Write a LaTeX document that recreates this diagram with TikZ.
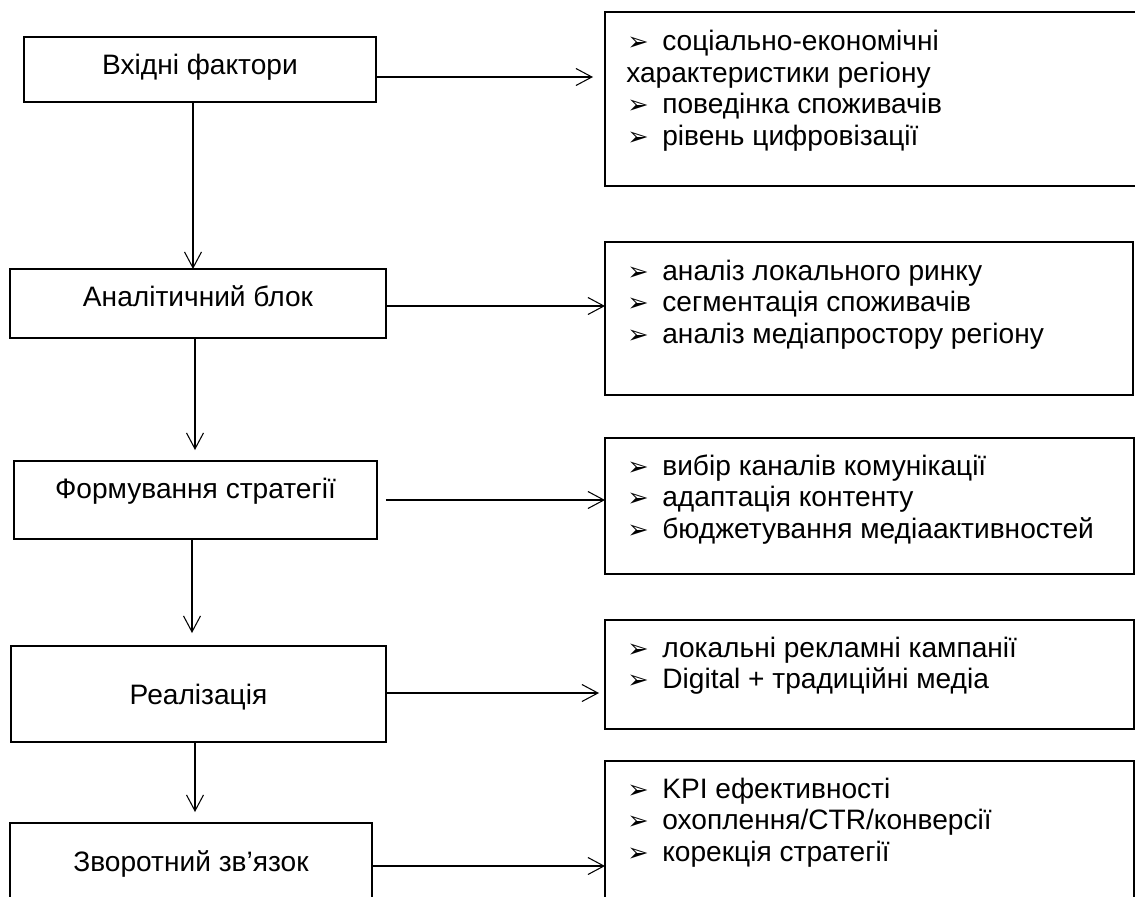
\documentclass[tikz,border=0pt]{standalone}
\usepackage{fontspec}
\setmainfont{Liberation Sans}
\newfontfamily\bulletfont{DejaVu Sans}
\usetikzlibrary{arrows.meta,calc}

\tikzset{
  stagebox/.style={draw, line width=1.25pt, inner sep=0pt, outer sep=0pt},
  flow/.style={line width=0.6pt, -{Straight Barb[length=0.32cm,width=0.34cm]}},
  boxtext/.style={font=\fontsize{16}{18}\selectfont, inner sep=0pt, anchor=base},
  itemtext/.style={boxtext, anchor=base west}
}
\newcommand\itembullet{\makebox[0.7cm][l]{\bulletfont\fontsize{14.5}{16}\selectfont ➢}}

\begin{document}
\begin{tikzpicture}[x=0.02cm, y=-0.02cm]

  \useasboundingbox (0,0) rectangle (1135,896);
  \clip (0,0) rectangle (1135,896);

  \foreach \n/\cx/\cy/\w/\h/\by/\txt in {
      1/200/69.5/7.04/1.30/74/Вхідні фактори,
      2/198/303.5/7.52/1.38/306/Аналітичний блок,
      3/195.5/500/7.26/1.56/498/Формування стратегії,
      4/198.5/694/7.50/1.92/704/Реалізація,
      5/191/864/7.24/1.64/871/Зворотний зв’язок}
  {
    \node[stagebox, minimum width=\w cm, minimum height=\h cm] (stage\n) at (\cx,\cy) {};
    \node[boxtext] (stage\n text) at (\cx,\by) {\txt};
  }

  \foreach \n/\cx/\cy/\w/\h in {1/875/99/10.80/3.48, 2/869/318.5/10.56/3.06,
      3/869.5/506/10.58/2.72, 4/869.5/674.5/10.58/2.18, 5/869.5/833/10.58/2.88}
    \node[stagebox, minimum width=\w cm, minimum height=\h cm] (info\n) at (\cx,\cy) {};

  \node[itemtext] (info1item1) at (627,50) {\itembullet соціально-економічні};
  \node[itemtext] (info1wrap) at (626,82) {характеристики регіону};
  \node[itemtext] (info1item2) at (627,113) {\itembullet поведінка споживачів};
  \node[itemtext] (info1item3) at (627,145) {\itembullet рівень цифровізації};

  \foreach \n/\y/\items in {
      2/280/{аналіз локального ринку, сегментація споживачів, аналіз медіапростору регіону},
      3/475/{вибір каналів комунікації, адаптація контенту, бюджетування медіаактивностей},
      4/657/{локальні рекламні кампанії, Digital + традиційні медіа},
      5/798/{KPI ефективності, охоплення/CTR/конверсії, корекція стратегії}}
    \foreach \t [count=\i] in \items
      \node[itemtext] (info\n item\i) at (627,\y+31.5*\i-31.5) {\itembullet\t};

  \draw[flow] ($(stage1.south)+(-7,0)$) -- ($(stage2.north)+(-5,0)$);
  \draw[flow] ($(stage2.south)+(-3,0)$) -- ($(stage3.north)+(-0.5,-11)$);
  \draw[flow] ($(stage3.south)+(-3.5,0)$) -- ($(stage4.north)+(-6.5,-13)$);
  \draw[flow] ($(stage4.south)+(-3.5,0)$) -- ($(stage5.north)+(4,-11)$);

  \draw[flow] ($(stage1.east)+(0,7.5)$) -- ($(stage1.east -| info1.west)+(-12,7.5)$);
  \draw[flow] ($(stage2.east)+(0,2.5)$) -- ($(stage2.east -| info2.west)+(0,2.5)$);
  \draw[flow] ($(stage3.east)+(9,0)$) -- (stage3.east -| info3.west);
  \draw[flow] ($(stage4.east)+(0,-1)$) -- ($(stage4.east -| info4.west)+(-6,-1)$);
  \draw[flow] ($(stage5.east)+(0,2)$) -- ($(stage5.east -| info5.west)+(0,2)$);

\end{tikzpicture}
\end{document}
